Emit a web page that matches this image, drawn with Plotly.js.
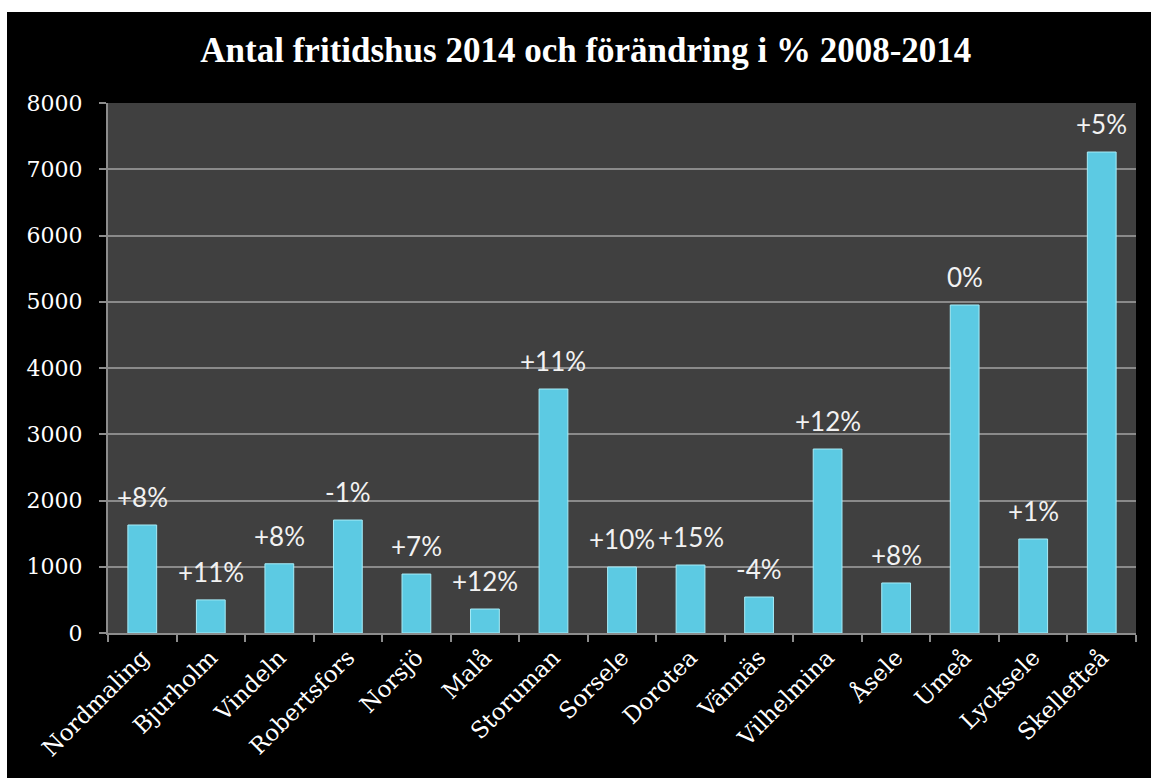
<!DOCTYPE html>
<html>
<head>
<meta charset="utf-8">
<script src="https://cdn.plot.ly/plotly-3.0.1.min.js"></script>
<style>
html,body{margin:0;padding:0;background:#ffffff;width:1151px;height:778px;overflow:hidden;}
#chart{position:absolute;left:7px;top:12px;width:1144px;height:766px;}
</style>
</head>
<body>
<div id="chart"></div>
<script>
const municipalities = ["Nordmaling","Bjurholm","Vindeln","Robertsfors","Norsjö","Malå","Storuman","Sorsele","Dorotea","Vännäs","Vilhelmina","Åsele","Umeå","Lycksele","Skellefteå"];
const holidayHomes2014 = [1630, 500, 1045, 1705, 890, 362, 3683, 996, 1026, 543, 2777, 755, 4951, 1419, 7260];
const changeLabels = ["+8%","+11%","+8%","-1%","+7%","+12%","+11%","+10%","+15%","-4%","+12%","+8%","0%","+1%","+5%"];
const yTicks = [0,1000,2000,3000,4000,5000,6000,7000,8000];

const trace = {
  type: "bar",
  x: municipalities,
  y: holidayHomes2014,
  width: 0.42,
  marker: {color: "#5ccae3", line: {color: "#a6ecf8", width: 1}},
  hoverinfo: "x+y"
};

const annotations = municipalities.map((m, i) => ({
  x: m, y: holidayHomes2014[i], xref: "x", yref: "y",
  text: changeLabels[i], showarrow: false,
  yanchor: "bottom", yshift: 10,
  font: {family: "Lato, 'Open Sans', sans-serif", size: 26, color: "#f2f2f2"}
}));

const layout = {
  width: 1144, height: 766,
  paper_bgcolor: "#000000",
  plot_bgcolor: "#404040",
  margin: {l: 101, r: 15, t: 91, b: 145},
  title: {
    text: "<b>Antal fritidshus 2014 och förändring i % 2008-2014</b>",
    x: 0.506, xanchor: "center", y: 0.951, yanchor: "middle",
    font: {family: "'Liberation Serif', serif", size: 35, color: "#ffffff"}
  },
  showlegend: false,
  xaxis: {
    type: "category",
    tickangle: -45,
    tickfont: {family: "'DejaVu Serif', serif", size: 23, color: "#ffffff"},
    showline: true, linecolor: "#8c8c8c", linewidth: 2,
    ticks: "outside", ticklen: 7, tickcolor: "#8c8c8c", tickwidth: 2,
    tickson: "boundaries",
    showgrid: false
  },
  yaxis: {
    range: [0, 8000],
    tickvals: yTicks,
    ticktext: yTicks.map(String),
    tickfont: {family: "'DejaVu Serif', serif", size: 22, color: "#ffffff"},
    ticklabelstandoff: 12,
    showline: true, linecolor: "#8c8c8c", linewidth: 2,
    ticks: "outside", ticklen: 7, tickcolor: "#8c8c8c", tickwidth: 2,
    showgrid: true, gridcolor: "#8a8a8a", gridwidth: 2,
    zeroline: false
  },
  annotations: annotations
};

Plotly.newPlot("chart", [trace], layout, {displayModeBar: false, staticPlot: true});
</script>
</body>
</html>
